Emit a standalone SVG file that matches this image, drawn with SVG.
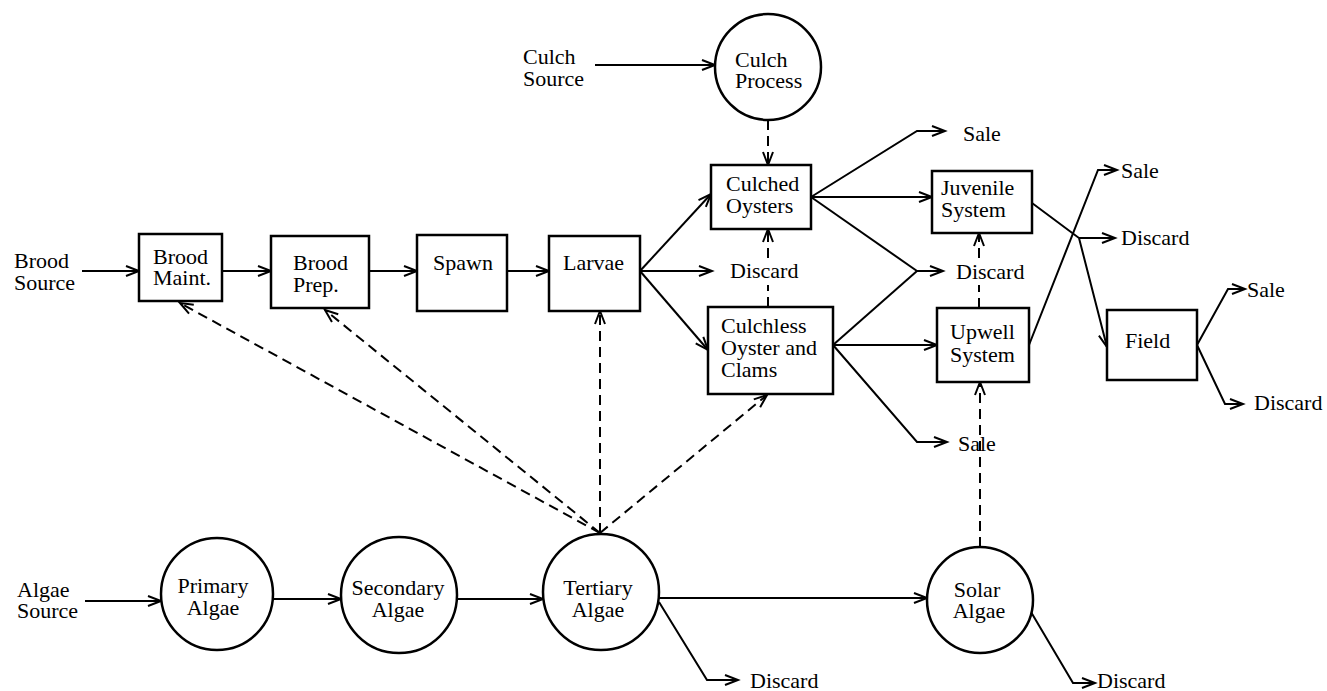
<svg xmlns="http://www.w3.org/2000/svg" width="1327" height="691" viewBox="0 0 1327 691">
<defs>
<marker id="arr" markerUnits="userSpaceOnUse" markerWidth="16" markerHeight="12" refX="13" refY="5" orient="auto" overflow="visible">
<path d="M0,0 L13,5 L0,10" fill="none" stroke="#000" stroke-width="2"/>
</marker>
<style>
.n{fill:#fff;stroke:#000;stroke-width:2.5}
.c line,.c polyline{fill:none;stroke:#000;stroke-width:2}
.c .d{stroke-dasharray:10 6}
text{font-family:"Liberation Serif","Times New Roman",serif;font-size:22px;fill:#000}
.m{text-anchor:middle}
</style>
</defs>
<rect width="1327" height="691" fill="#fff"/>

<g id="connectors" class="c">
<line x1="595" y1="65" x2="715" y2="65" marker-end="url(#arr)"/>
<line x1="82" y1="271" x2="139" y2="271" marker-end="url(#arr)"/>
<line x1="222" y1="271" x2="271" y2="271" marker-end="url(#arr)"/>
<line x1="369" y1="271" x2="417" y2="271" marker-end="url(#arr)"/>
<line x1="507" y1="271" x2="549" y2="271" marker-end="url(#arr)"/>
<line x1="640" y1="271" x2="711" y2="194" marker-end="url(#arr)"/>
<line x1="640" y1="271" x2="712" y2="271" marker-end="url(#arr)"/>
<line x1="640" y1="271" x2="708" y2="350" marker-end="url(#arr)"/>
<polyline points="811,197 917,131 945,131" marker-end="url(#arr)"/>
<line x1="811" y1="197" x2="932" y2="197" marker-end="url(#arr)"/>
<line x1="811" y1="197" x2="917" y2="271"/>
<line x1="833" y1="345" x2="917" y2="271"/>
<line x1="917" y1="271" x2="943" y2="271" marker-end="url(#arr)"/>
<line x1="833" y1="345" x2="937" y2="345" marker-end="url(#arr)"/>
<polyline points="833,345 917,442 947,442" marker-end="url(#arr)"/>
<polyline points="1032,203 1079,238 1107,347" marker-end="url(#arr)"/>
<line x1="1079" y1="238" x2="1115" y2="238" marker-end="url(#arr)"/>
<polyline points="1029,345 1098,170 1117,170" marker-end="url(#arr)"/>
<polyline points="1197,345 1228,289 1245,289" marker-end="url(#arr)"/>
<polyline points="1197,345 1225,404 1243,404" marker-end="url(#arr)"/>
<line x1="85" y1="601" x2="161" y2="601" marker-end="url(#arr)"/>
<line x1="273" y1="599" x2="341" y2="599" marker-end="url(#arr)"/>
<line x1="457" y1="599" x2="543" y2="599" marker-end="url(#arr)"/>
<line x1="659" y1="598" x2="927" y2="598" marker-end="url(#arr)"/>
<polyline points="659,602 707,680 738,680" marker-end="url(#arr)"/>
<polyline points="1031,612 1073,683 1095,683" marker-end="url(#arr)"/>
<line class="d" x1="768" y1="120" x2="768" y2="165" marker-end="url(#arr)"/>
<line class="d" x1="768" y1="307" x2="768" y2="285"/>
<line class="d" x1="768" y1="258" x2="768" y2="229" marker-end="url(#arr)"/>
<line class="d" x1="979" y1="308" x2="979" y2="285"/>
<line class="d" x1="979" y1="258" x2="979" y2="233" marker-end="url(#arr)"/>
<line class="d" x1="980" y1="547" x2="980" y2="382" marker-end="url(#arr)"/>
<line class="d" x1="600" y1="533" x2="180" y2="303" marker-end="url(#arr)"/>
<line class="d" x1="600" y1="533" x2="325" y2="310" marker-end="url(#arr)"/>
<line class="d" x1="600" y1="533" x2="600" y2="311" marker-end="url(#arr)"/>
<line class="d" x1="600" y1="533" x2="767" y2="395" marker-end="url(#arr)"/>
</g>

<g id="culch-source"><text x="523" y="64">Culch<tspan x="523" dy="22">Source</tspan></text></g>
<g id="culch-process"><circle class="n" cx="768" cy="67" r="53"/><text x="735" y="67">Culch<tspan x="735" dy="21">Process</tspan></text></g>
<g id="culched-oysters"><rect class="n" x="711" y="165" width="100" height="64"/><text x="726" y="191">Culched<tspan x="726" dy="22">Oysters</tspan></text></g>
<g id="sale-1"><text x="963" y="141">Sale</text></g>
<g id="juvenile-system"><rect class="n" x="932" y="171" width="100" height="62"/><text x="941" y="195">Juvenile<tspan x="941" dy="22">System</tspan></text></g>
<g id="sale-2"><text x="1121" y="178">Sale</text></g>
<g id="discard-2"><text x="1121" y="245">Discard</text></g>
<g id="brood-source"><text x="14" y="268">Brood<tspan x="14" dy="22">Source</tspan></text></g>
<g id="brood-maint"><rect class="n" x="139" y="234" width="83" height="67"/><text x="153" y="264">Brood<tspan x="153" dy="21">Maint.</tspan></text></g>
<g id="brood-prep"><rect class="n" x="271" y="236" width="98" height="72"/><text x="293" y="270">Brood<tspan x="293" dy="22">Prep.</tspan></text></g>
<g id="spawn"><rect class="n" x="417" y="235" width="90" height="76"/><text x="433" y="270">Spawn</text></g>
<g id="larvae"><rect class="n" x="549" y="236" width="91" height="75"/><text x="563" y="270">Larvae</text></g>
<g id="discard-1"><text x="730" y="278">Discard</text></g>
<g id="discard-3"><text x="956" y="279">Discard</text></g>
<g id="culchless"><rect class="n" x="708" y="307" width="125" height="87"/><text x="721" y="333">Culchless<tspan x="721" dy="22">Oyster and</tspan><tspan x="721" dy="22">Clams</tspan></text></g>
<g id="upwell-system"><rect class="n" x="937" y="308" width="92" height="74"/><text x="950" y="339">Upwell<tspan x="950" dy="23">System</tspan></text></g>
<g id="field"><rect class="n" x="1107" y="310" width="90" height="70"/><text x="1125" y="348">Field</text></g>
<g id="sale-3"><text x="1247" y="297">Sale</text></g>
<g id="discard-4"><text x="1254" y="410">Discard</text></g>
<g id="sale-4"><text x="958" y="451">Sale</text></g>
<g id="algae-source"><text x="17" y="597">Algae<tspan x="17" dy="21">Source</tspan></text></g>
<g id="primary-algae"><circle class="n" cx="217" cy="594" r="56"/><text class="m" x="213" y="593">Primary<tspan x="213" dy="22">Algae</tspan></text></g>
<g id="secondary-algae"><circle class="n" cx="399" cy="595" r="58"/><text class="m" x="398" y="595">Secondary<tspan x="398" dy="22">Algae</tspan></text></g>
<g id="tertiary-algae"><circle class="n" cx="601" cy="592" r="58"/><text class="m" x="598" y="595">Tertiary<tspan x="598" dy="22">Algae</tspan></text></g>
<g id="solar-algae"><circle class="n" cx="980" cy="600" r="53"/><text class="m" x="977" y="597">Solar<tspan x="979" dy="21">Algae</tspan></text></g>
<g id="discard-5"><text x="750" y="688">Discard</text></g>
<g id="discard-6"><text x="1097" y="688">Discard</text></g>
</svg>
